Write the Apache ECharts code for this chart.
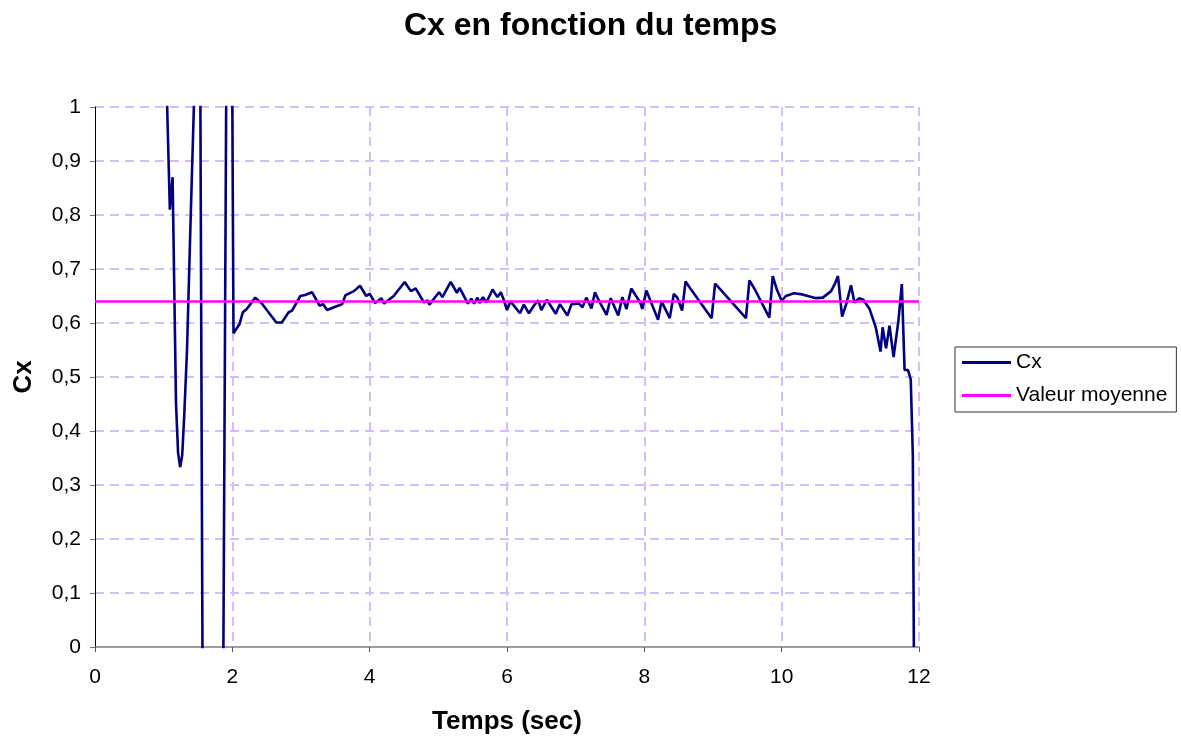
<!DOCTYPE html>
<html>
<head>
<meta charset="utf-8">
<script src="https://cdn.jsdelivr.net/npm/echarts@6/dist/echarts.min.js"></script>
<style>
html,body{margin:0;padding:0;background:#fff;overflow:hidden;}
#chart{width:1181px;height:740px;}
</style>
</head>
<body>
<div id="chart"></div>
<script>
// Temps (sec)
const times = [1.02,1.09,1.13,1.18,1.21,1.24,1.27,1.30,1.34,1.39,1.44,1.48,1.52,1.58,1.85,1.93,1.98,
2.017,2.105,2.153,2.21,2.333,2.43,2.64,2.72,2.82,2.87,2.99,3.06,3.16,3.27,3.32,3.38,3.50,3.60,3.645,3.77,3.86,3.95,
4.00,4.08,4.17,4.21,4.35,4.51,4.60,4.67,4.79,4.84,4.87,5.01,5.06,5.18,5.27,5.31,5.43,5.48,5.52,5.57,5.60,5.65,5.70,5.79,5.86,5.91,5.95,
6.00,6.05,6.19,6.245,6.32,6.39,6.455,6.50,6.58,6.71,6.77,6.88,6.94,7.05,7.10,7.155,7.23,7.28,7.34,7.45,7.51,7.62,7.68,7.74,7.81,7.94,7.97,
8.03,8.09,8.20,8.25,8.37,8.43,8.48,8.55,8.60,8.67,8.98,9.03,9.11,9.48,9.53,9.61,9.82,9.87,9.93,
10.00,10.06,10.18,10.30,10.50,10.60,10.72,10.78,10.82,10.88,10.94,11.01,11.06,11.13,11.19,11.28,11.37,11.44,11.47,11.52,11.57,11.63,11.70,11.75,11.79,11.84,11.88,11.91,11.925];
// Cx values
const cxValues = [1.15,0.81,0.87,0.45,0.36,0.333,0.355,0.43,0.55,0.78,1.00,1.30,1.50,-0.50,-0.50,1.50,1.50,
0.581,0.598,0.620,0.626,0.647,0.636,0.601,0.601,0.620,0.623,0.650,0.652,0.657,0.632,0.635,0.624,0.630,0.635,0.651,0.659,0.669,0.650,
0.654,0.637,0.646,0.636,0.650,0.676,0.659,0.664,0.638,0.642,0.634,0.657,0.648,0.676,0.656,0.665,0.636,0.645,0.636,0.647,0.637,0.648,0.638,0.662,0.648,0.657,0.644,
0.624,0.640,0.618,0.634,0.618,0.632,0.642,0.624,0.643,0.617,0.635,0.614,0.635,0.636,0.629,0.647,0.627,0.657,0.641,0.615,0.646,0.614,0.648,0.626,0.664,0.638,0.626,
0.660,0.641,0.606,0.640,0.609,0.654,0.647,0.623,0.677,0.664,0.609,0.673,0.662,0.609,0.679,0.662,0.610,0.687,0.662,
0.641,0.650,0.655,0.653,0.646,0.647,0.659,0.674,0.687,0.612,0.635,0.670,0.638,0.646,0.643,0.626,0.592,0.547,0.592,0.553,0.595,0.537,0.604,0.672,0.513,0.513,0.495,0.355,0.00];
// Valeur moyenne
const meanTimes = [0, 12];
const meanValues = [0.64, 0.64];
// Axis ticks
const xTicks = [0,2,4,6,8,10,12];
const yTicks = [0,0.1,0.2,0.3,0.4,0.5,0.6,0.7,0.8,0.9,1];

const FONT = '"Liberation Sans", Arial, sans-serif';
const gridColor = '#d8bbff';

const chart = echarts.init(document.getElementById('chart'), null, {renderer:'canvas'});
chart.setOption({
  animation: false,
  backgroundColor: '#ffffff',
  title: {
    text: 'Cx en fonction du temps',
    left: 399,
    top: 5,
    textStyle: {fontFamily: FONT, fontSize: 32, fontWeight: 'bold', color: '#000'}
  },
  legend: {
    orient: 'vertical',
    left: 955,
    top: 347,
    padding: [5, 9, 6, 7],
    itemGap: 12,
    itemWidth: 49,
    itemHeight: 3,
    icon: 'rect',
    borderColor: '#333',
    borderWidth: 1,
    borderRadius: 0,
    backgroundColor: '#fff',
    textStyle: {fontFamily: FONT, fontSize: 21, color: '#000'},
    data: ['Cx', 'Valeur moyenne']
  },
  grid: {left: 95, right: 262, top: 107, bottom: 87, containLabel: false},
  xAxis: {
    type: 'value',
    min: xTicks[0],
    max: xTicks[xTicks.length-1],
    interval: 2,
    name: 'Temps (sec)',
    nameLocation: 'middle',
    nameGap: 62,
    nameTextStyle: {fontFamily: FONT, fontSize: 26, fontWeight: 'bold', color: '#000'},
    axisLine: {show: true, onZero: false, lineStyle: {color: '#7f7f7f', width: 1.5}},
    axisTick: {show: true, length: 5, lineStyle: {color: '#555'}},
    axisLabel: {margin: 20, fontFamily: FONT, fontSize: 21, color: '#000'},
    splitLine: {show: true, showMinLine: false, lineStyle: {color: gridColor, type: [9, 6], width: 2}}
  },
  yAxis: {
    type: 'value',
    min: yTicks[0],
    max: yTicks[yTicks.length-1],
    interval: 0.1,
    name: 'Cx',
    nameLocation: 'middle',
    nameGap: 58,
    nameTextStyle: {fontFamily: FONT, fontSize: 26, fontWeight: 'bold', color: '#000'},
    axisLine: {show: true, lineStyle: {color: '#000', width: 1}},
    axisTick: {show: true, length: 5, lineStyle: {color: '#777'}},
    axisLabel: {
      margin: 14, fontFamily: FONT, fontSize: 21, color: '#000',
      formatter: v => String(Math.round(v*10)/10).replace('.', ',')
    },
    splitLine: {show: true, showMinLine: false, lineStyle: {color: gridColor, type: [9, 6], width: 2}}
  },
  series: [
    {
      name: 'Cx',
      type: 'line',
      data: times.map((t, i) => [t, cxValues[i]]),
      showSymbol: false,
      symbol: 'none',
      clip: true,
      smooth: false,
      lineStyle: {color: '#000080', width: 2.6},
      itemStyle: {color: '#000080'}
    },
    {
      name: 'Valeur moyenne',
      type: 'line',
      data: meanTimes.map((t, i) => [t, meanValues[i]]),
      showSymbol: false,
      symbol: 'none',
      lineStyle: {color: '#ff00ff', width: 2.5},
      itemStyle: {color: '#ff00ff'}
    }
  ]
});
</script>
</body>
</html>
